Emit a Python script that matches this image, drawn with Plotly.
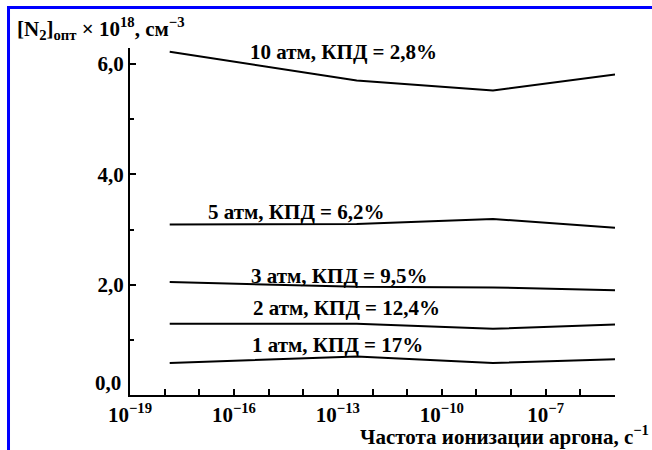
import math
import plotly.graph_objects as go

# Data
x_freq = [1.4e-18, 3.5e-13, 3.0e-9, 1.0e-5]
n_10atm = [6.22, 5.70, 5.52, 5.81]
n_5atm = [3.09, 3.10, 3.19, 3.03]
n_3atm = [2.05, 1.96, 1.95, 1.90]
n_2atm = [1.29, 1.29, 1.20, 1.28]
n_1atm = [0.58, 0.70, 0.58, 0.65]

series = [n_10atm, n_5atm, n_3atm, n_2atm, n_1atm]
labels = ["10 атм, КПД = 2,8%", "5 атм, КПД = 6,2%", "3 атм, КПД = 9,5%",
          "2 атм, КПД = 12,4%", "1 атм, КПД = 17%"]
label_x = [1.5e-13, 6.6e-15, 1.15e-13, 1.74e-13, 1.0e-13]
label_y = [6.22, 3.32, 2.16, 1.58, 0.91]

x_tickvals = [10.0**k for k in range(-19, -4)]
x_ticktext = ["10<sup>−%d</sup>" % (-k) if (k + 19) % 3 == 0 and k <= -7 else " "
              for k in range(-19, -4)]
y_tickvals = [0, 2, 4, 6]
y_ticktext = [" ", "2,0", "4,0", "6,0"]

FONT = "Liberation Serif"
FS = 21

def bfont(size=FS):
    return dict(family=FONT, size=size, color="black", weight="bold")

fig = go.Figure()
for s in series:
    fig.add_trace(go.Scatter(x=x_freq, y=s, mode="lines",
                             line=dict(color="black", width=2),
                             showlegend=False, hoverinfo="skip"))

for t, lx, ly in zip(labels, label_x, label_y):
    fig.add_annotation(x=math.log10(lx), y=ly, xref="x", yref="y", text=t,
                       showarrow=False, xanchor="center", yanchor="middle",
                       font=bfont())

# 0,0 label, shifted up like the original
fig.add_annotation(x=-0.0144, y=0, xref="paper", yref="y", text="0,0",
                   showarrow=False, xanchor="right", yanchor="middle", yshift=12,
                   font=bfont())

# Axis titles
fig.add_annotation(x=-0.237, y=1.0576, xref="paper", yref="paper",
                   text="[N<sub>2</sub>]<sub>опт</sub> × 10<sup>18</sup>, см<sup>−3</sup>",
                   showarrow=False, xanchor="left", yanchor="middle",
                   font=bfont())
fig.add_annotation(x=1.0742, y=-0.1153, xref="paper", yref="paper",
                   text="Частота ионизации аргона, с<sup>−1</sup>",
                   showarrow=False, xanchor="right", yanchor="middle",
                   font=bfont())

# Blue frame (left and top edges)
fig.add_shape(type="path", xref="paper", yref="paper",
              path="M -0.2505,-0.3 L -0.2505,1.1167 L 1.2,1.1167",
              line=dict(color="#0000ff", width=3))

fig.update_layout(
    width=652, height=450,
    margin=dict(l=130, r=37, t=48, b=55),
    paper_bgcolor="white", plot_bgcolor="white",
    font=bfont(),
    xaxis=dict(type="log", range=[-19, -5], showgrid=False, zeroline=False,
               showline=True, linecolor="black", linewidth=2,
               tickmode="array", tickvals=x_tickvals, ticktext=x_ticktext,
               ticks="inside", ticklen=6, tickwidth=2, tickcolor="black",
               tickfont=bfont()),
    yaxis=dict(range=[0, 6.29], showgrid=False, zeroline=False,
               showline=True, linecolor="black", linewidth=2,
               tickmode="array", tickvals=y_tickvals, ticktext=y_ticktext,
               ticks="inside", ticklen=6, tickwidth=2, tickcolor="black",
               tickfont=bfont(),
               minor=dict(tickmode="array", tickvals=[1, 3, 5], ticks="inside",
                          ticklen=4, tickwidth=2, tickcolor="black")),
)

fig.write_html("out.html")
